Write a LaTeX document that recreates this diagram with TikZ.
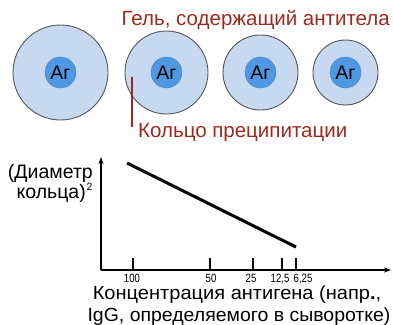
\documentclass[tikz,border=0pt]{standalone}
\usepackage{fontspec}
\setmainfont{Liberation Sans}
\usetikzlibrary{arrows.meta}
\definecolor{gel}{HTML}{C6D9F1}
\definecolor{ag}{HTML}{4F97E3}
\definecolor{rim}{HTML}{555555}
\definecolor{dred}{HTML}{9E2A1E}
\begin{document}
\begin{tikzpicture}[x=1pt,y=-1pt,
  well/.style={circle,draw=rim,line width=0.9pt,fill=gel,inner sep=0pt},
  agc/.style={circle,fill=ag,draw=ag!80!black,line width=0.3pt,minimum size=31pt,inner sep=0pt,font=\fontsize{19.5}{19.5}\selectfont},
  redtxt/.style={text=dred,font=\fontsize{20.5}{22}\selectfont,inner sep=0pt},
  axis/.style={line width=1.5pt,-{Stealth[length=7pt,width=5pt]}},
  tick/.style={line width=1.5pt},
  ticklbl/.style={font=\fontsize{12}{12}\selectfont,inner sep=0pt,anchor=base},
  lbl/.style={font=\fontsize{19}{21}\selectfont,inner sep=0pt}]
\useasboundingbox (0,0) rectangle (393,324);
% wells
\node[well,minimum size=95pt] (w1) at (60.5,72.5) {};
\node[well,minimum size=83pt] (w2) at (166.5,72.5) {};
\node[well,minimum size=75pt] (w3) at (260.5,72.5) {};
\node[well,minimum size=65pt] (w4) at (345.5,72.5) {};
\node[agc] (a1) at (w1) {Аг};
\node[agc] (a2) at (w2) {Аг};
\node[agc] (a3) at (w3) {Аг};
\node[agc] (a4) at (w4) {Аг};
% labels
\node[redtxt,anchor=base east] (gel) at (390,25) {Гель, содержащий антитела};
\coordinate (r1) at (132,77);
\coordinate (r2) at (132,127);
\draw[dred,line width=1.3pt] (r1) -- (r2);
\node[redtxt,anchor=base west] (ring) at (138,137) {Кольцо преципитации};
% axes
\coordinate (o) at (101,270);
\coordinate (ytop) at (101,157);
\coordinate (xend) at (391,270);
\draw[axis] (o) -- (ytop);
\draw[axis] (o) -- (xend);
\foreach \x/\lx/\t [count=\i] in {133/132/100,210/211/50,253/251/25,282/280/{12,5},296/303/{6,25}}{
  \coordinate (tk\i) at (\x,258);
  \coordinate (tb\i) at (\x,270);
  \draw[tick] (tk\i) -- (tb\i);
  \node[ticklbl] (tl\i) at (\lx,282.5) {\scalebox{0.8}[1]{\t}};
}
\coordinate (l1) at (127,163);
\coordinate (l2) at (296,247);
\draw[line width=3pt] (l1) -- (l2);
\node[lbl,font=\fontsize{19.5}{21}\selectfont,anchor=base east] (yl1) at (93,178) {(Диаметр};
\node[lbl,font=\fontsize{19.5}{21}\selectfont,anchor=base east] (yl2) at (86,198) {кольца)};
\node[font=\fontsize{10.5}{10.5}\selectfont,inner sep=0pt,anchor=base west] (sq) at (86.5,190.5) {2};
\node[lbl,anchor=base] (xl1) at (237,299.5) {\scalebox{1.055}[1]{Концентрация антигена (напр\textbf{.},}};
\node[lbl,anchor=base] (xl2) at (239,321) {\scalebox{1.025}[1]{IgG, определяемого в сыворотке)}};
\end{tikzpicture}
\end{document}
